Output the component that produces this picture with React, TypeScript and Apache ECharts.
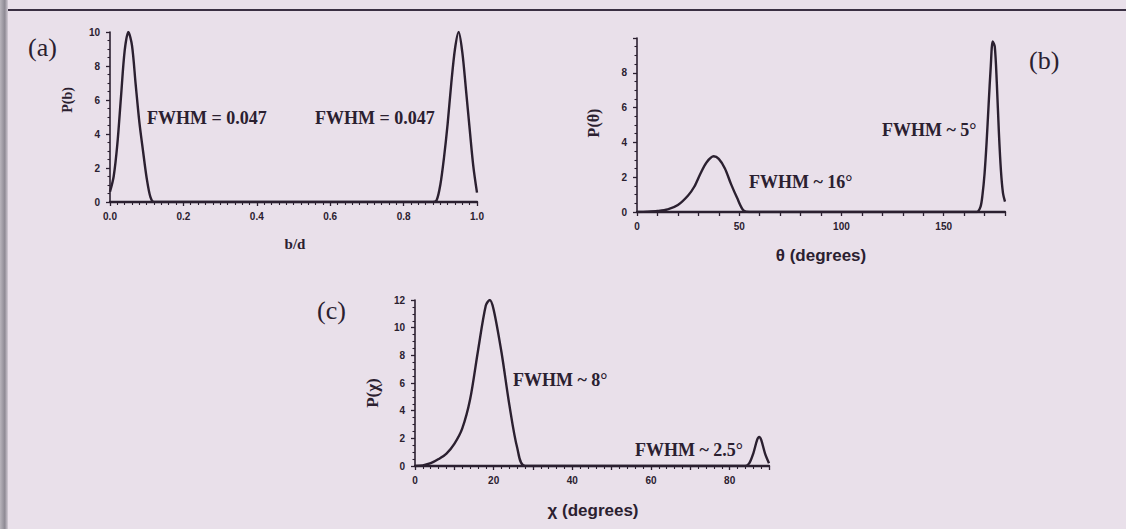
import React, { useEffect, useRef } from "react";
import * as echarts from "echarts";

// Panel (a): P(b) vs b/d
const bdValues = [0, 0.01, 0.02, 0.03, 0.04, 0.05, 0.06, 0.07, 0.08, 0.09, 0.1, 0.11, 0.12, 0.88, 0.89, 0.9, 0.91, 0.92, 0.93, 0.94, 0.95, 0.96, 0.97, 0.98, 0.99, 1.0];
const pbValues = [0.6, 1.5, 3.4, 6.2, 8.9, 10, 9.2, 6.9, 4.7, 3.0, 1.4, 0.3, 0, 0, 0.1, 1.0, 2.6, 4.6, 7.0, 9.0, 10, 8.8, 6.6, 4.3, 2.1, 0.55];

// Panel (b): P(theta) vs theta (degrees)
const thetaValues = [0, 5, 10, 15, 20, 25, 28, 31, 34, 37.5, 40, 43, 46, 49, 52, 55, 166, 168, 169, 170, 171, 172, 173, 174, 175, 176, 177, 178, 179, 180];
const pThetaValues = [0, 0.02, 0.06, 0.15, 0.4, 0.95, 1.45, 2.2, 2.85, 3.2, 3.05, 2.5, 1.6, 0.8, 0.1, 0, 0, 0.3, 1.0, 2.2, 4.0, 6.2, 8.3, 9.8, 9.5, 7.4, 4.6, 2.4, 1.1, 0.6];

// Panel (c): P(chi) vs chi (degrees)
const chiValues = [0, 2, 4, 6, 8, 10, 12, 14, 16, 18, 19, 20, 22, 24, 26, 28, 84, 85, 86, 87, 87.5, 88, 89, 90];
const pChiValues = [0, 0.05, 0.2, 0.5, 0.9, 1.6, 2.7, 4.8, 8.3, 11.6, 12, 11.3, 8.2, 4.4, 1.3, 0, 0, 0.2, 0.9, 1.9, 2.1, 1.9, 0.9, 0.2];

const panelLabels = ["(a)", "(b)", "(c)"];
const fwhmLabels = ["FWHM = 0.047", "FWHM = 0.047", "FWHM ~ 16°", "FWHM ~ 5°", "FWHM ~ 8°", "FWHM ~ 2.5°"];

const INK = "#2b2030";

function makeX(gridIndex: number, max: number, interval: number, minorSplit: number, fmt: (v: number) => string) {
  return {
    type: "value",
    gridIndex,
    min: 0,
    max,
    interval,
    splitLine: { show: false },
    axisLine: { show: true, onZero: false, lineStyle: { color: INK, width: 2.4 } },
    axisTick: { show: true, length: 4, lineStyle: { color: INK, width: 1.3 } },
    minorTick: { show: minorSplit > 0, splitNumber: minorSplit || 1, length: 3, lineStyle: { color: INK, width: 1.1 } },
    minorSplitLine: { show: false },
    axisLabel: {
      color: INK,
      fontSize: 10,
      fontWeight: "bold",
      fontFamily: "Liberation Sans, Arial, sans-serif",
      margin: 9,
      formatter: fmt,
    },
  };
}

function makeY(gridIndex: number, max: number, hideMax: boolean) {
  return {
    type: "value",
    gridIndex,
    min: 0,
    max,
    interval: 2,
    splitLine: { show: false },
    axisLine: { show: true, lineStyle: { color: INK, width: 1.6 } },
    axisTick: { show: true, length: 4, lineStyle: { color: INK, width: 1.3 } },
    minorTick: { show: true, splitNumber: 4, length: 2.5, lineStyle: { color: INK, width: 1.1 } },
    minorSplitLine: { show: false },
    axisLabel: {
      color: INK,
      fontSize: 10,
      fontWeight: "bold",
      fontFamily: "Liberation Sans, Arial, sans-serif",
      margin: 10,
      formatter: (v: number) => (hideMax && v === max ? "" : String(v)),
    },
  };
}

export default function App() {
  const ref = useRef<HTMLDivElement>(null);
  useEffect(() => {
    if (!ref.current) return;
    const chart = echarts.init(ref.current, null, { renderer: "svg" });
    const serifBold = "bold 18px 'Liberation Serif', 'Times New Roman', serif";
    const lineStyle = { color: INK, width: 2.4 };
    const option: any = {
      animation: false,
      backgroundColor: "#e9e0ea",
      grid: [
        { left: 110, top: 32, width: 367, height: 170 },
        { left: 637, top: 38, width: 368, height: 174 },
        { left: 415, top: 300, width: 354, height: 166 },
      ],
      xAxis: [
        makeX(0, 1, 0.2, 10, (v: number) => v.toFixed(1)),
        makeX(1, 180, 10, 0, (v: number) => (v % 50 === 0 ? String(v) : "")),
        makeX(2, 90, 10, 5, (v: number) => (v % 20 === 0 ? String(v) : "")),
      ],
      yAxis: [makeY(0, 10, false), makeY(1, 10, true), makeY(2, 12, false)],
      series: [
        {
          type: "line",
          xAxisIndex: 0,
          yAxisIndex: 0,
          data: bdValues.map((x, i) => [x, pbValues[i]]),
          smooth: 0.3,
          showSymbol: false,
          lineStyle,
        },
        {
          type: "line",
          xAxisIndex: 1,
          yAxisIndex: 1,
          data: thetaValues.map((x, i) => [x, pThetaValues[i]]),
          smooth: 0.3,
          showSymbol: false,
          lineStyle,
        },
        {
          type: "line",
          xAxisIndex: 2,
          yAxisIndex: 2,
          data: chiValues.map((x, i) => [x, pChiValues[i]]),
          smooth: 0.3,
          showSymbol: false,
          lineStyle,
        },
      ],
      graphic: [
        {
          type: "rect",
          shape: { x: 0, y: 0, width: 8, height: 529 },
          style: {
            fill: new echarts.graphic.LinearGradient(0, 0, 1, 0, [
              { offset: 0, color: "#b8b4bc" },
              { offset: 0.6, color: "#8e8a94" },
              { offset: 1, color: "#d4ccd6" },
            ]),
          },
        },
        {
          type: "line",
          shape: { x1: 8, y1: 10, x2: 1126, y2: 10 },
          style: { stroke: "#3a2f42", lineWidth: 2 },
        },
        // panel labels
        { type: "text", x: 28, y: 47, style: { text: panelLabels[0], font: "26px 'Liberation Serif', serif", fill: INK, verticalAlign: "middle" } },
        { type: "text", x: 1029, y: 60, style: { text: panelLabels[1], font: "26px 'Liberation Serif', serif", fill: INK, verticalAlign: "middle" } },
        { type: "text", x: 317, y: 310, style: { text: panelLabels[2], font: "26px 'Liberation Serif', serif", fill: INK, verticalAlign: "middle" } },
        // FWHM annotations
        { type: "text", x: 147, y: 118, style: { text: fwhmLabels[0], font: serifBold, fill: INK, verticalAlign: "middle" } },
        { type: "text", x: 315, y: 118, style: { text: fwhmLabels[1], font: serifBold, fill: INK, verticalAlign: "middle" } },
        { type: "text", x: 749, y: 182, style: { text: fwhmLabels[2], font: serifBold, fill: INK, verticalAlign: "middle" } },
        { type: "text", x: 882, y: 130, style: { text: fwhmLabels[3], font: serifBold, fill: INK, verticalAlign: "middle" } },
        { type: "text", x: 513, y: 380, style: { text: fwhmLabels[4], font: serifBold, fill: INK, verticalAlign: "middle" } },
        { type: "text", x: 635, y: 450, style: { text: fwhmLabels[5], font: serifBold, fill: INK, verticalAlign: "middle" } },
        // axis titles
        { type: "text", x: 67, y: 100, rotation: Math.PI / 2, style: { text: "P(b)", font: "bold 14px 'Liberation Serif', serif", fill: INK, align: "center", verticalAlign: "middle" } },
        { type: "text", x: 593, y: 123, rotation: Math.PI / 2, style: { text: "P(θ)", font: "bold 16px 'Liberation Serif', serif", fill: INK, align: "center", verticalAlign: "middle" } },
        { type: "text", x: 372, y: 393, rotation: Math.PI / 2, style: { text: "P(χ)", font: "bold 17px 'Liberation Serif', serif", fill: INK, align: "center", verticalAlign: "middle" } },
        { type: "text", x: 295, y: 244, style: { text: "b/d", font: "bold 15px 'Liberation Serif', serif", fill: INK, align: "center", verticalAlign: "middle" } },
        { type: "text", x: 821, y: 255, style: { text: "θ (degrees)", font: "bold 17px 'Liberation Sans', Arial, sans-serif", fill: INK, align: "center", verticalAlign: "middle" } },
        { type: "text", x: 593, y: 510, style: { text: "χ (degrees)", font: "bold 17px 'Liberation Sans', Arial, sans-serif", fill: INK, align: "center", verticalAlign: "middle" } },
      ],
    };
    chart.setOption(option);
    return () => chart.dispose();
  }, []);
  return <div ref={ref} style={{ position: "fixed", left: 0, top: 0, width: 1126, height: 529 }} />;
}
